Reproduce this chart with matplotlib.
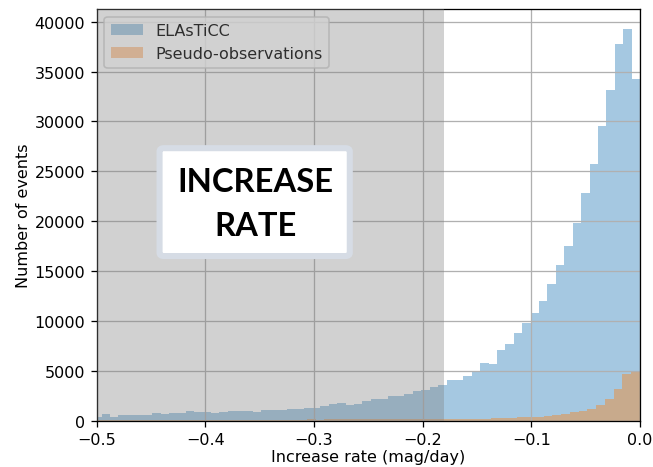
import numpy as np
import matplotlib
matplotlib.use("Agg")
import matplotlib.pyplot as plt
from matplotlib.patches import FancyBboxPatch

# Histogram counts per bin (read from the binned event rates)
elasticc_counts = [
    340, 670, 400, 570, 570, 570, 570, 770, 670, 770,
    770, 970, 840, 840, 770, 900, 970, 970, 970, 870,
    1100, 1070, 1070, 1170, 1170, 1270, 1270, 1440, 1700, 1800,
    1540, 1640, 1970, 2140, 2200, 2500, 2500, 2700, 3000, 3100,
    3340, 3570, 4100, 4100, 4470, 4940, 5770, 5670, 7070, 7700,
    8770, 9840, 10750, 11970, 13670, 15640, 17520, 19850, 22850, 25750,
    29550, 33150, 37800, 39300, 34300,
]
pseudo_counts = [
    60, 70, 60, 70, 80, 70, 80, 80, 90, 80,
    90, 90, 100, 90, 100, 100, 110, 100, 110, 110,
    120, 110, 120, 120, 130, 120, 130, 130, 140, 140,
    140, 150, 140, 150, 150, 160, 150, 160, 160, 170,
    160, 170, 180, 190, 200, 240, 260, 280, 340, 360,
    410, 470, 580, 700, 840, 940, 1170, 1550, 2170, 3170,
    4670, 4840,
]
elasticc_range = (-0.503, 0.0)
pseudo_range = (-0.5, 0.0)
series_labels = ["ELAsTiCC", "Pseudo-observations"]
cut_rate = -0.18
x_limits = (-0.5, 0.0)

elasticc_edges = np.linspace(*elasticc_range, len(elasticc_counts) + 1)
pseudo_edges = np.linspace(*pseudo_range, len(pseudo_counts) + 1)

DPI = 115
fig = plt.figure(figsize=(653 / DPI, 468 / DPI), dpi=DPI)
ax = fig.add_axes([0.1478, 0.0989, 0.8323, 0.8797])

ax.hist(elasticc_edges[:-1], bins=elasticc_edges, weights=elasticc_counts,
        histtype="stepfilled", color="tab:blue", alpha=0.4, label=series_labels[0])
ax.hist(pseudo_edges[:-1], bins=pseudo_edges, weights=pseudo_counts,
        histtype="stepfilled", color="tab:orange", alpha=0.4, label=series_labels[1])

ax.set_xlim(*x_limits)
ax.grid(True)
ax.set_xlabel("Increase rate (mag/day)", labelpad=1.5)
ax.set_ylabel("Number of events", labelpad=2.5)
ax.legend(loc="upper left")

# rejected region, shaded over everything
ax.axvspan(x_limits[0], cut_rate, color="gray", alpha=0.36, zorder=10, lw=0)

# label box
box = FancyBboxPatch((0.116, 0.400), 0.350, 0.262, transform=ax.transAxes,
                     boxstyle="round,pad=0,rounding_size=0.008",
                     fc="white", ec="#d6dce5", lw=3.8, zorder=11)
ax.add_patch(box)
ax.text(0.293, 0.528, "INCREASE\nRATE", transform=ax.transAxes,
        ha="center", va="center", fontsize=20.5, fontweight="bold",
        family=["Lato", "DejaVu Sans"], linespacing=1.65, zorder=12)

fig.savefig("out.png", dpi=DPI)
